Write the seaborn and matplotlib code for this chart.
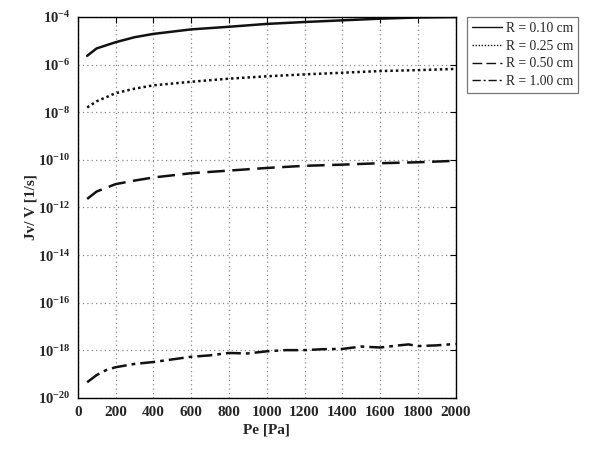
import numpy as np
import pandas as pd
import matplotlib
matplotlib.use("Agg")
import matplotlib.pyplot as plt
import seaborn as sns
from matplotlib.ticker import LogLocator, LogFormatterMathtext, NullLocator

# ---- data (log10 of Jv/V) ----
pe_main = [50, 100, 200, 300, 400, 600, 800, 1000, 1200, 1400, 1600, 1800, 2000]
log_r010 = [-5.63, -5.32, -5.06, -4.85, -4.71, -4.52, -4.41, -4.29, -4.21, -4.14, -4.07, -4.02, -4.00]
log_r025 = [-7.80, -7.54, -7.20, -7.01, -6.87, -6.72, -6.59, -6.49, -6.41, -6.34, -6.27, -6.23, -6.18]
log_r050 = [-11.64, -11.33, -11.02, -10.87, -10.74, -10.56, -10.45, -10.34, -10.25, -10.20, -10.14, -10.10, -10.04]
pe_r100 = [50, 100, 150, 200, 300, 400, 500, 600, 700, 800, 900, 1000, 1100, 1200,
           1300, 1400, 1500, 1600, 1700, 1750, 1800, 1900, 2000]
log_r100 = [-19.34, -19.04, -18.83, -18.71, -18.57, -18.49, -18.38, -18.27, -18.21, -18.11,
            -18.13, -18.04, -17.99, -17.99, -17.95, -17.94, -17.84, -17.88, -17.79, -17.75,
            -17.82, -17.79, -17.73]
labels = ["R = 0.10 cm", "R = 0.25 cm", "R = 0.50 cm", "R = 1.00 cm"]
x_ticks = [0, 200, 400, 600, 800, 1000, 1200, 1400, 1600, 1800, 2000]

frames = []
for lab, xs, ys in zip(labels, [pe_main, pe_main, pe_main, pe_r100],
                       [log_r010, log_r025, log_r050, log_r100]):
    frames.append(pd.DataFrame({"Pe": xs, "J": 10.0 ** np.array(ys), "R": lab}))
df = pd.concat(frames, ignore_index=True)

sns.set_style("white")
plt.rcParams["font.family"] = ["Liberation Serif", "DejaVu Serif"]
plt.rcParams["mathtext.fontset"] = "custom"
plt.rcParams["mathtext.rm"] = "Liberation Serif"
plt.rcParams["mathtext.bf"] = "Liberation Serif:bold"

fig = plt.figure(figsize=(6, 4.5), dpi=100)
ax = fig.add_axes([0.1295, 0.1156, 0.63, 0.8466])

dash_map = {
    labels[0]: "",
    labels[1]: (1, 1.2),
    labels[2]: (7, 3),
    labels[3]: (6, 2, 1.5, 2),
}
sns.lineplot(data=df, x="Pe", y="J", hue="R", style="R",
             palette=["#111111"] * 4, dashes=dash_map, ax=ax,
             linewidth=1.8, legend=True, estimator=None, sort=False)

ax.set_yscale("log")
ax.set_xlim(0, 2000)
ax.set_ylim(1e-20, 1e-4)
ax.yaxis.set_major_locator(LogLocator(base=100.0, numticks=20))
ax.yaxis.set_major_formatter(LogFormatterMathtext(base=10.0))
ax.yaxis.set_minor_locator(NullLocator())
ax.set_xticks(x_ticks)
ax.xaxis.get_offset_text().set_visible(False)
ax.yaxis.get_offset_text().set_visible(False)

ax.grid(True, which="major", linestyle=(0, (1, 2.5)), color="#8a8a8a", linewidth=0.9)
ax.tick_params(direction="in", top=True, right=True, length=4, width=0.8, color="black")
ax.tick_params(axis="x", pad=6, labelsize=11)
ax.tick_params(axis="y", pad=5, labelsize=10.5)
for lbl in ax.get_xticklabels() + ax.get_yticklabels():
    lbl.set_fontweight("bold")
for sp in ax.spines.values():
    sp.set_color("black")
    sp.set_linewidth(1.0)

ax.set_xlabel("Pe [Pa]", fontsize=11, fontweight="bold", labelpad=3)
ax.set_ylabel("Jv/ V [1/s]", fontsize=11, fontweight="bold")
ax.yaxis.set_label_coords(-0.106, 0.5)

handles, labs = ax.get_legend_handles_labels()
for h in handles:
    h.set_linewidth(1.0)
leg = ax.legend(handles, labs, loc="upper left", bbox_to_anchor=(0.778, 0.962),
                bbox_transform=fig.transFigure, fontsize=9.8, frameon=True,
                fancybox=False, edgecolor="#555555", handlelength=2.2,
                borderpad=0.35, labelspacing=0.35, handletextpad=0.3, borderaxespad=0)
leg.get_frame().set_linewidth(0.9)

fig.savefig("out.png", dpi=100)
